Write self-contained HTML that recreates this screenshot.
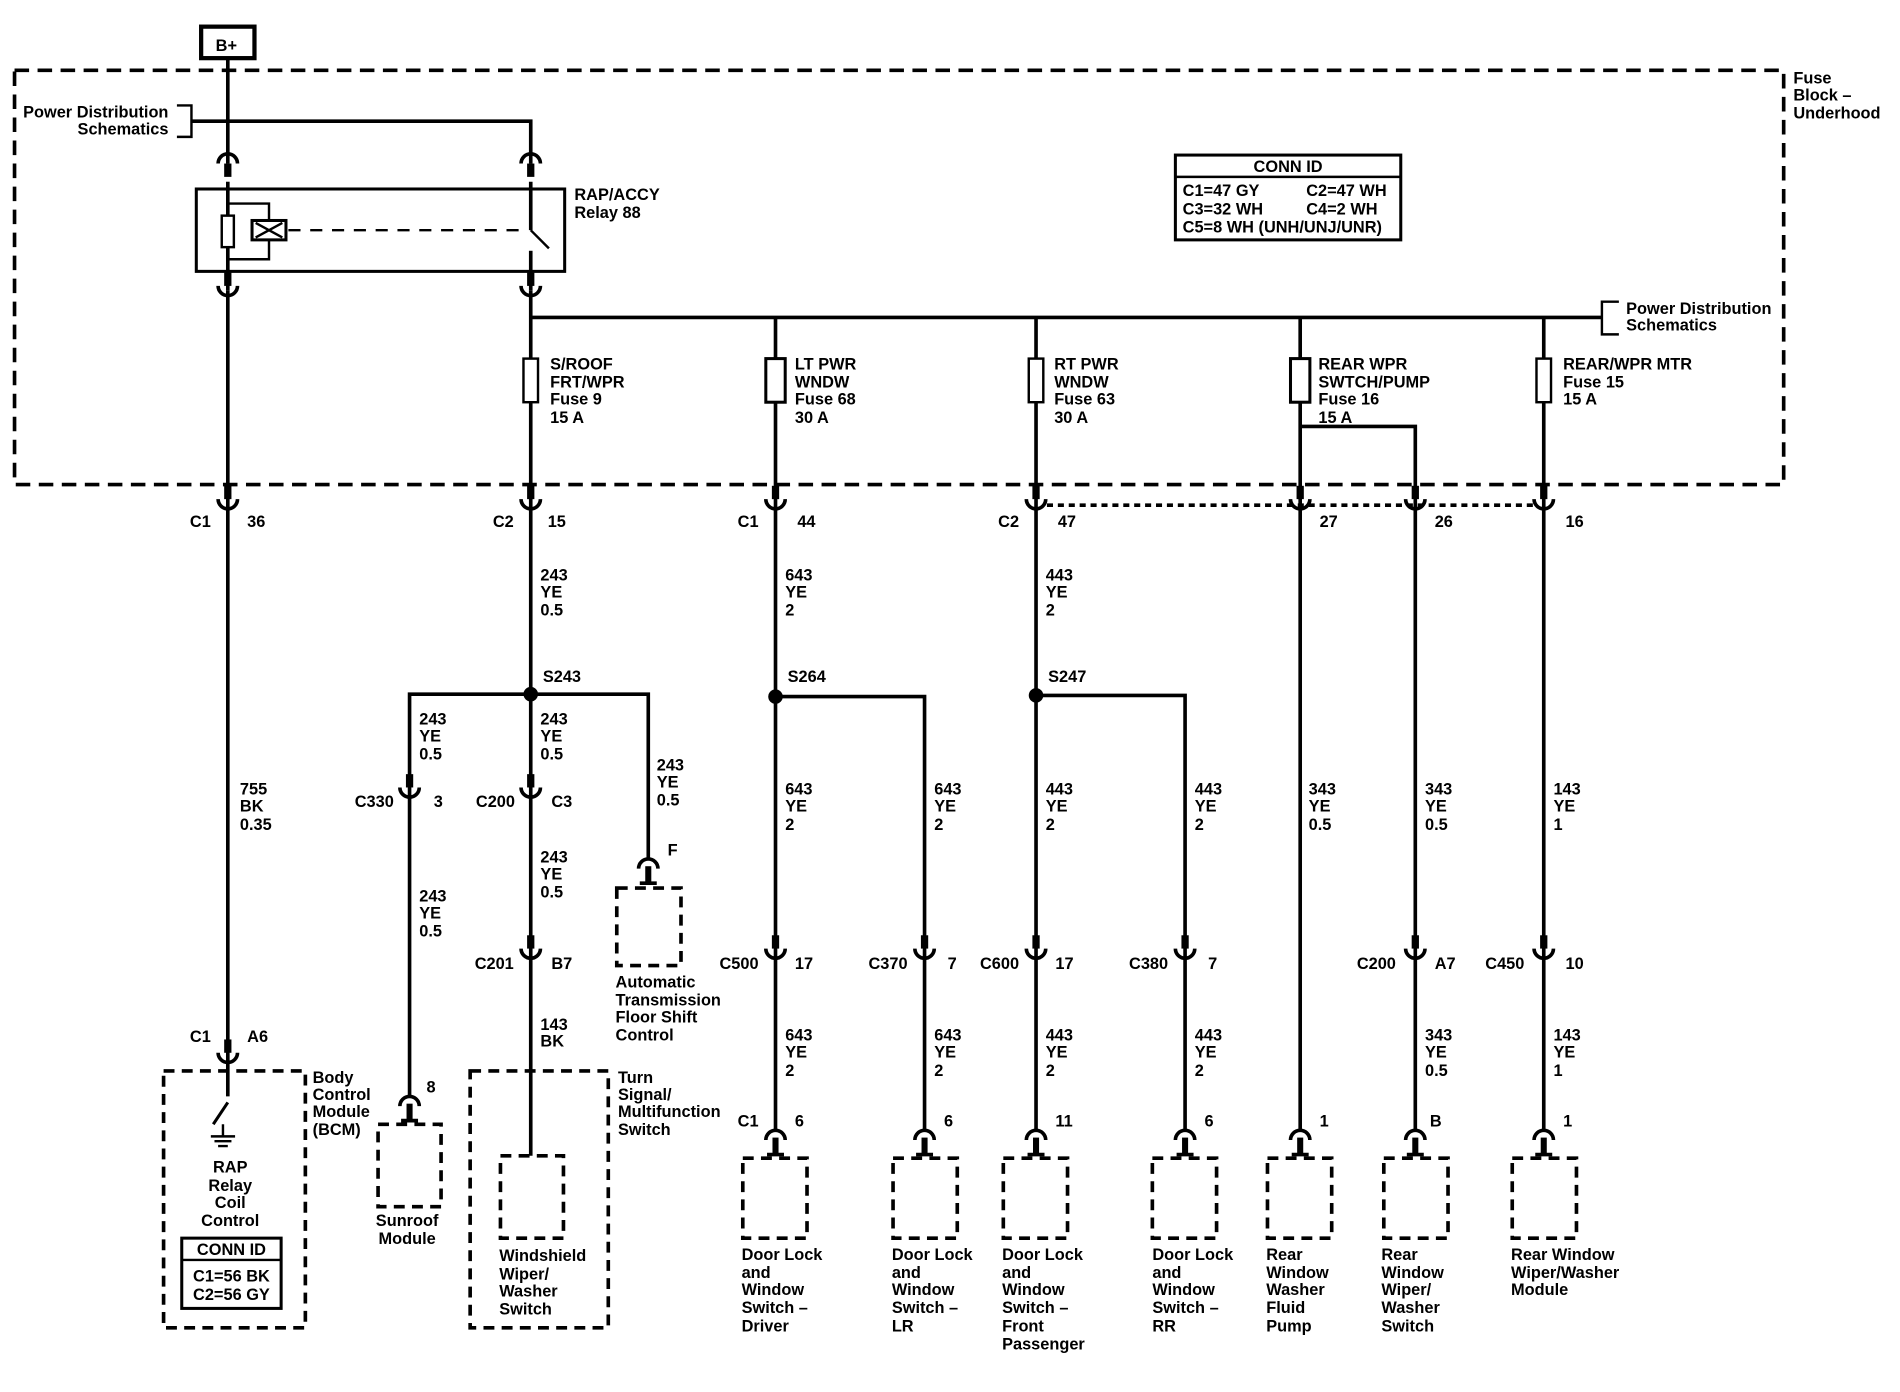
<!DOCTYPE html>
<html><head><meta charset="utf-8"><style>
html,body{margin:0;padding:0;background:#fff}
svg{display:block}
text{font-family:"Liberation Sans",Arial,sans-serif;font-size:13.5px;font-weight:bold;fill:#000}
</style></head><body>
<svg width="1900" height="1392" viewBox="0 0 1568 1149" preserveAspectRatio="none" xmlns="http://www.w3.org/2000/svg">
<defs>
<g id="cu"><rect x="-3" y="-11" width="6" height="11" fill="#000"/><path d="M-8,0 A8,8 0 0 0 8,0" stroke="#000" stroke-width="3" fill="none"/></g>
<g id="cd"><path d="M-8,8 A8,8 0 0 1 8,8" stroke="#000" stroke-width="3" fill="none"/><rect x="-3" y="8" width="6" height="11" fill="#000"/></g>
<g id="pin"><path d="M-8,8 A8,8 0 0 1 8,8" stroke="#000" stroke-width="3" fill="none"/><rect x="-2.5" y="6" width="5" height="14" fill="#000"/><line x1="-7" y1="20" x2="7" y2="20" stroke="#000" stroke-width="3"/></g>
</defs>
<g stroke="#000" fill="none" stroke-width="3">
<!-- outer dashed box -->
<rect x="12" y="58" width="1460" height="342" stroke-dasharray="12,7"/>
<!-- B+ -->
<rect x="166" y="22" width="44" height="26" stroke-width="3.5"/>
<line x1="188" y1="48" x2="188" y2="135"/>
<polyline points="146,87 158,87 158,113 146,113" stroke-width="2"/>
<polyline points="158,100 438,100 438,135"/>
<!-- relay -->
<rect x="162" y="156" width="304" height="68" stroke-width="2.5"/>
<rect x="183" y="178" width="10" height="26" stroke-width="2"/>
<line x1="188" y1="150" x2="188" y2="178"/><line x1="188" y1="204" x2="188" y2="240"/>
<polyline points="188,168 222,168 222,182" stroke-width="2"/>
<polyline points="188,214 222,214 222,198" stroke-width="2"/>
<rect x="208" y="182" width="28" height="16" stroke-width="2.5"/>
<path d="M211,184 L233,196 M211,196 L233,184" stroke-width="2"/>
<line x1="238" y1="190" x2="428" y2="190" stroke-width="2" stroke-dasharray="10,8"/>
<line x1="438" y1="150" x2="438" y2="190"/>
<line x1="438" y1="190" x2="453" y2="205" stroke-width="2"/>
<line x1="438" y1="207" x2="438" y2="240"/>
<!-- bus -->
<line x1="438" y1="240" x2="438" y2="420"/>
<line x1="188" y1="240" x2="188" y2="420"/>
<line x1="438" y1="262" x2="1322" y2="262"/>
<polyline points="1336,249 1322,249 1322,276 1336,276" stroke-width="2"/>
<line x1="640" y1="262" x2="640" y2="420"/>
<line x1="855" y1="262" x2="855" y2="420"/>
<line x1="1073" y1="262" x2="1073" y2="420"/>
<line x1="1274" y1="262" x2="1274" y2="420"/>
<polyline points="1073,352 1168,352 1168,420"/>
<!-- fuses -->
<rect x="432" y="296" width="12" height="36" fill="#fff" stroke-width="2"/>
<rect x="632" y="296" width="16" height="36" fill="#fff" stroke-width="2.5"/>
<rect x="849" y="296" width="12" height="36" fill="#fff" stroke-width="2"/>
<rect x="1065" y="296" width="16" height="36" fill="#fff" stroke-width="2.5"/>
<rect x="1268" y="296" width="12" height="36" fill="#fff" stroke-width="2"/>
<!-- CONN ID -->
<rect x="970" y="128" width="186" height="70" stroke-width="2.5"/>
<line x1="970" y1="146" x2="1156" y2="146" stroke-width="2"/>
<!-- dotted -->
<line x1="864" y1="417" x2="1268" y2="417" stroke-dasharray="5,4"/>
<!-- lower wires -->
<line x1="188" y1="420" x2="188" y2="905"/>
<line x1="438" y1="420" x2="438" y2="954"/>
<line x1="640" y1="420" x2="640" y2="933"/>
<line x1="855" y1="420" x2="855" y2="933"/>
<line x1="1073" y1="420" x2="1073" y2="933"/>
<line x1="1168" y1="420" x2="1168" y2="933"/>
<line x1="1274" y1="420" x2="1274" y2="933"/>
<polyline points="338,650 338,573 535,573 535,708"/>
<line x1="338" y1="650" x2="338" y2="905"/>
<polyline points="640,575 763,575 763,933"/>
<polyline points="855,574 978,574 978,933"/>
<!-- BCM -->
<rect x="135" y="884" width="117" height="212" stroke-dasharray="9,6"/>
<line x1="188" y1="910" x2="176" y2="928" stroke-width="2.5"/>
<line x1="184" y1="928" x2="184" y2="938" stroke-width="2"/>
<path d="M174,938 h20 M177,942 h14 M180,946 h8" stroke-width="2"/>
<rect x="150" y="1022" width="82" height="58" stroke-width="2.5"/>
<line x1="150" y1="1040" x2="232" y2="1040" stroke-width="2"/>
<!-- modules -->
<rect x="312" y="928" width="52" height="68" stroke-dasharray="9,6"/>
<rect x="509" y="733" width="53" height="64" stroke-dasharray="9,6"/>
<rect x="388" y="884" width="114" height="212" stroke-dasharray="9,6"/>
<rect x="413" y="954" width="52" height="68" stroke-dasharray="9,6"/>
<rect x="613" y="956" width="53" height="66" stroke-dasharray="9,6"/>
<rect x="737" y="956" width="53" height="66" stroke-dasharray="9,6"/>
<rect x="828" y="956" width="53" height="66" stroke-dasharray="9,6"/>
<rect x="951" y="956" width="53" height="66" stroke-dasharray="9,6"/>
<rect x="1046" y="956" width="53" height="66" stroke-dasharray="9,6"/>
<rect x="1142" y="956" width="53" height="66" stroke-dasharray="9,6"/>
<rect x="1248" y="956" width="53" height="66" stroke-dasharray="9,6"/>
</g>
<g fill="#000">
<circle cx="438" cy="573" r="6"/><circle cx="640" cy="575" r="6"/><circle cx="855" cy="574" r="6"/>
</g>
<!-- connector symbols -->
<use href="#cd" x="188" y="127"/><use href="#cd" x="438" y="127"/>
<use href="#cu" x="188" y="236"/><use href="#cu" x="438" y="236"/>
<use href="#cu" x="188" y="412"/><use href="#cu" x="438" y="412"/><use href="#cu" x="640" y="412"/><use href="#cu" x="855" y="412"/><use href="#cu" x="1073" y="412"/><use href="#cu" x="1168" y="412"/><use href="#cu" x="1274" y="412"/>
<use href="#cu" x="338" y="650"/><use href="#cu" x="438" y="650"/>
<use href="#cu" x="438" y="783"/><use href="#cu" x="640" y="783"/><use href="#cu" x="763" y="783"/><use href="#cu" x="855" y="783"/><use href="#cu" x="978" y="783"/><use href="#cu" x="1168" y="783"/><use href="#cu" x="1274" y="783"/>
<use href="#cu" x="188" y="869"/>
<use href="#pin" x="338" y="905"/><use href="#pin" x="535" y="709"/>
<use href="#pin" x="640" y="933"/><use href="#pin" x="763" y="933"/><use href="#pin" x="855" y="933"/><use href="#pin" x="978" y="933"/><use href="#pin" x="1073" y="933"/><use href="#pin" x="1168" y="933"/><use href="#pin" x="1274" y="933"/>
<!-- texts -->
<text x="178" y="42">B+</text>
<text x="139" y="97" text-anchor="end" font-weight="normal">Power Distribution</text>
<text x="139" y="111" text-anchor="end">Schematics</text>
<text x="474" y="165">RAP/ACCY</text><text x="474" y="180">Relay 88</text>
<text x="1480" y="69">Fuse</text><text x="1480" y="83">Block –</text><text x="1480" y="98">Underhood</text>
<text x="1063" y="142" text-anchor="middle">CONN ID</text>
<text x="976" y="162">C1=47 GY</text><text x="1078" y="162">C2=47 WH</text>
<text x="976" y="177">C3=32 WH</text><text x="1078" y="177">C4=2 WH</text>
<text x="976" y="192">C5=8 WH (UNH/UNJ/UNR)</text>
<text x="1342" y="259">Power Distribution</text><text x="1342" y="273">Schematics</text>
<text x="454" y="305">S/ROOF</text><text x="454" y="320">FRT/WPR</text><text x="454" y="334">Fuse 9</text><text x="454" y="349">15 A</text>
<text x="656" y="305">LT PWR</text><text x="656" y="320">WNDW</text><text x="656" y="334">Fuse 68</text><text x="656" y="349">30 A</text>
<text x="870" y="305">RT PWR</text><text x="870" y="320">WNDW</text><text x="870" y="334">Fuse 63</text><text x="870" y="349">30 A</text>
<text x="1088" y="305">REAR WPR</text><text x="1088" y="320">SWTCH/PUMP</text><text x="1088" y="334">Fuse 16</text><text x="1088" y="349">15 A</text>
<text x="1290" y="305">REAR/WPR MTR</text><text x="1290" y="320">Fuse 15</text><text x="1290" y="334">15 A</text>
<!-- row connectors -->
<text x="174" y="435" text-anchor="end">C1</text><text x="204" y="435">36</text>
<text x="424" y="435" text-anchor="end">C2</text><text x="452" y="435">15</text>
<text x="626" y="435" text-anchor="end">C1</text><text x="658" y="435">44</text>
<text x="841" y="435" text-anchor="end">C2</text><text x="873" y="435">47</text>
<text x="1089" y="435">27</text><text x="1184" y="435">26</text><text x="1292" y="435">16</text>
<text x="446" y="479">243</text><text x="446" y="493">YE</text><text x="446" y="508">0.5</text>
<text x="648" y="479">643</text><text x="648" y="493">YE</text><text x="648" y="508">2</text>
<text x="863" y="479">443</text><text x="863" y="493">YE</text><text x="863" y="508">2</text>
<text x="448" y="563">S243</text><text x="650" y="563">S264</text><text x="865" y="563">S247</text>
<text x="346" y="598">243</text><text x="346" y="612">YE</text><text x="346" y="627">0.5</text>
<text x="446" y="598">243</text><text x="446" y="612">YE</text><text x="446" y="627">0.5</text>
<text x="542" y="636">243</text><text x="542" y="650">YE</text><text x="542" y="665">0.5</text>
<text x="198" y="656">755</text><text x="198" y="670">BK</text><text x="198" y="685">0.35</text>
<text x="648" y="656">643</text><text x="648" y="670">YE</text><text x="648" y="685">2</text>
<text x="771" y="656">643</text><text x="771" y="670">YE</text><text x="771" y="685">2</text>
<text x="863" y="656">443</text><text x="863" y="670">YE</text><text x="863" y="685">2</text>
<text x="986" y="656">443</text><text x="986" y="670">YE</text><text x="986" y="685">2</text>
<text x="1080" y="656">343</text><text x="1080" y="670">YE</text><text x="1080" y="685">0.5</text>
<text x="1176" y="656">343</text><text x="1176" y="670">YE</text><text x="1176" y="685">0.5</text>
<text x="1282" y="656">143</text><text x="1282" y="670">YE</text><text x="1282" y="685">1</text>
<text x="325" y="666" text-anchor="end">C330</text><text x="358" y="666">3</text>
<text x="425" y="666" text-anchor="end">C200</text><text x="455" y="666">C3</text>
<text x="446" y="712">243</text><text x="446" y="726">YE</text><text x="446" y="741">0.5</text>
<text x="346" y="744">243</text><text x="346" y="758">YE</text><text x="346" y="773">0.5</text>
<text x="551" y="706">F</text>
<text x="424" y="800" text-anchor="end">C201</text><text x="455" y="800">B7</text>
<text x="626" y="800" text-anchor="end">C500</text><text x="656" y="800">17</text>
<text x="749" y="800" text-anchor="end">C370</text><text x="782" y="800">7</text>
<text x="841" y="800" text-anchor="end">C600</text><text x="871" y="800">17</text>
<text x="964" y="800" text-anchor="end">C380</text><text x="997" y="800">7</text>
<text x="1152" y="800" text-anchor="end">C200</text><text x="1184" y="800">A7</text>
<text x="1258" y="800" text-anchor="end">C450</text><text x="1292" y="800">10</text>
<text x="508" y="815">Automatic</text><text x="508" y="830">Transmission</text><text x="508" y="844">Floor Shift</text><text x="508" y="859">Control</text>
<text x="446" y="850">143</text><text x="446" y="864">BK</text>
<text x="648" y="859">643</text><text x="648" y="873">YE</text><text x="648" y="888">2</text>
<text x="771" y="859">643</text><text x="771" y="873">YE</text><text x="771" y="888">2</text>
<text x="863" y="859">443</text><text x="863" y="873">YE</text><text x="863" y="888">2</text>
<text x="986" y="859">443</text><text x="986" y="873">YE</text><text x="986" y="888">2</text>
<text x="1176" y="859">343</text><text x="1176" y="873">YE</text><text x="1176" y="888">0.5</text>
<text x="1282" y="859">143</text><text x="1282" y="873">YE</text><text x="1282" y="888">1</text>
<text x="174" y="860" text-anchor="end">C1</text><text x="204" y="860">A6</text>
<text x="258" y="894">Body</text><text x="258" y="908">Control</text><text x="258" y="922">Module</text><text x="258" y="937">(BCM)</text>
<text x="510" y="894">Turn</text><text x="510" y="908">Signal/</text><text x="510" y="922">Multifunction</text><text x="510" y="937">Switch</text>
<text x="352" y="902">8</text>
<text x="626" y="930" text-anchor="end">C1</text><text x="656" y="930">6</text>
<text x="779" y="930">6</text><text x="871" y="930">11</text><text x="994" y="930">6</text>
<text x="1089" y="930">1</text><text x="1180" y="930">B</text><text x="1290" y="930">1</text>
<text x="190" y="968" text-anchor="middle">RAP</text><text x="190" y="983" text-anchor="middle">Relay</text><text x="190" y="997" text-anchor="middle">Coil</text><text x="190" y="1012" text-anchor="middle">Control</text>
<text x="191" y="1036" text-anchor="middle">CONN ID</text>
<text x="191" y="1058" text-anchor="middle">C1=56 BK</text><text x="191" y="1073" text-anchor="middle">C2=56 GY</text>
<text x="336" y="1012" text-anchor="middle">Sunroof</text><text x="336" y="1027" text-anchor="middle">Module</text>
<text x="412" y="1041">Windshield</text><text x="412" y="1056">Wiper/</text><text x="412" y="1070">Washer</text><text x="412" y="1085">Switch</text>
<text x="612" y="1040">Door Lock</text><text x="612" y="1055">and</text><text x="612" y="1069">Window</text><text x="612" y="1084">Switch –</text><text x="612" y="1099">Driver</text>
<text x="736" y="1040">Door Lock</text><text x="736" y="1055">and</text><text x="736" y="1069">Window</text><text x="736" y="1084">Switch –</text><text x="736" y="1099">LR</text>
<text x="827" y="1040">Door Lock</text><text x="827" y="1055">and</text><text x="827" y="1069">Window</text><text x="827" y="1084">Switch –</text><text x="827" y="1099">Front</text><text x="827" y="1114">Passenger</text>
<text x="951" y="1040">Door Lock</text><text x="951" y="1055">and</text><text x="951" y="1069">Window</text><text x="951" y="1084">Switch –</text><text x="951" y="1099">RR</text>
<text x="1045" y="1040">Rear</text><text x="1045" y="1055">Window</text><text x="1045" y="1069">Washer</text><text x="1045" y="1084">Fluid</text><text x="1045" y="1099">Pump</text>
<text x="1140" y="1040">Rear</text><text x="1140" y="1055">Window</text><text x="1140" y="1069">Wiper/</text><text x="1140" y="1084">Washer</text><text x="1140" y="1099">Switch</text>
<text x="1247" y="1040">Rear Window</text><text x="1247" y="1055">Wiper/Washer</text><text x="1247" y="1069">Module</text>
</svg>
</body></html>
